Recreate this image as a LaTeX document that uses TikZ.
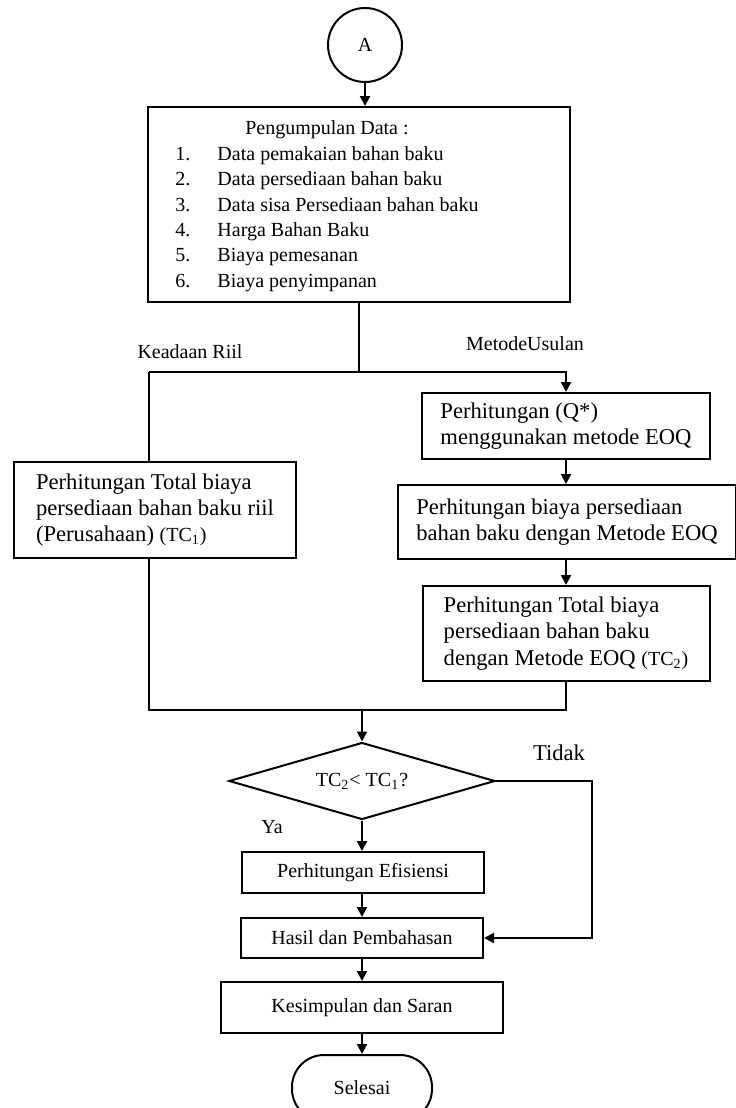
\documentclass[tikz,border=0pt]{standalone}
\usepackage{fontspec}
\setmainfont{Liberation Serif}
\usepackage{tikz}
\usetikzlibrary{positioning, calc, shapes.geometric, arrows.meta}
\newcommand{\bigtext}{\fontsize{11.3}{13.2}\selectfont}
\newcommand{\smalltext}{\fontsize{10}{12.7}\selectfont}

\begin{document}
\begin{tikzpicture}[
    x=0.5pt, y=-0.5pt,
    box/.style={rectangle, draw, line width=1pt, inner sep=0pt, align=left, font=\bigtext},
    procbox/.style={rectangle, draw, line width=1pt, inner sep=0pt, align=center, font=\smalltext},
    lbl/.style={inner sep=0pt, font=\smalltext},
    arr/.style={-{Triangle[length=5pt, width=5pt]}},
    every path/.style={line width=1pt},
  ]
    \useasboundingbox (0,0) rectangle (735,1108);

    \node[circle, draw, line width=1pt, minimum size=37pt, inner sep=0pt, font=\smalltext] (A) at (365,45) {A};
    \node[box, minimum width=211pt, minimum height=97.5pt] (data) at (359,204.5) {};
    \node[lbl] (datalist) at (327,206) {%
      \begin{tabular}{@{}l@{}l@{}}
        \multicolumn{2}{c}{Pengumpulan Data :} \\
        \makebox[21pt][l]{1.} & Data pemakaian bahan baku \\
        \makebox[21pt][l]{2.} & Data persediaan bahan baku \\
        \makebox[21pt][l]{3.} & Data sisa Persediaan bahan baku \\
        \makebox[21pt][l]{4.} & Harga Bahan Baku \\
        \makebox[21pt][l]{5.} & Biaya pemesanan \\
        \makebox[21pt][l]{6.} & Biaya penyimpanan
      \end{tabular}};

    \node[lbl] (riil) at (190,352) {Keadaan Riil};
    \node[lbl] (usulan) at (525,344) {MetodeUsulan};

    \node[box, minimum width=141pt, minimum height=48pt] (tc1) at (155,510)
      {Perhitungan Total biaya\\persediaan bahan baku riil\\(Perusahaan) {\smalltext(TC\textsubscript{1})}};
    \node[box, minimum width=144pt, minimum height=33pt] (eoq) at (566,426)
      {Perhitungan (Q*)\\menggunakan metode EOQ};
    \node[box, minimum width=169pt, minimum height=37pt] (biaya) at (567,522)
      {Perhitungan biaya persediaan\\bahan baku dengan Metode EOQ};
    \node[box, minimum width=143.5pt, minimum height=47.5pt] (tc2) at (566,633.5)
      {Perhitungan Total biaya\\persediaan bahan baku\\dengan Metode EOQ {\smalltext(TC\textsubscript{2})}};

    \node[diamond, aspect=3.45, draw, line width=1pt, minimum width=133pt, minimum height=38.5pt, inner sep=0pt, font=\smalltext] (cond) at (362,781)
      {TC\textsubscript{2}< TC\textsubscript{1}?};
    \node[lbl, font=\bigtext] (tidak) at (559,753) {Tidak};
    \node[lbl] (ya) at (272,827) {Ya};

    \node[procbox, minimum width=121pt, minimum height=20.5pt] (eff) at (363,872.5) {Perhitungan Efisiensi};
    \node[procbox, minimum width=121pt, minimum height=20pt] (hasil) at (362,938) {Hasil dan Pembahasan};
    \node[procbox, minimum width=141pt, minimum height=25.5pt] (saran) at (362,1007.5) {Kesimpulan dan Saran};
    \node[procbox, minimum width=70pt, minimum height=33pt, rounded corners=16pt] (selesai) at (362,1088) {Selesai};

    \coordinate (split) at (149,372);
    \coordinate (merge) at (362,710);

    \draw[arr] (A.south) -- (A.south |- data.north);
    \draw (data.south) -- (data.south |- split);
    \draw (split |- tc1.north) -- (split);
    \draw[arr] (split) -| (eoq.north);
    \draw[arr] (eoq.south) -- (biaya.north -| eoq.south);
    \draw[arr] (biaya.south -| tc2.north) -- (tc2.north);
    \draw (tc1.south -| split) |- (merge) -| (tc2.south);
    \draw[arr] (merge) -- (cond.north);
    \draw[arr] (cond.south) -- (eff.north -| cond.south);
    \draw[arr] (eff.south -| hasil.north) -- (hasil.north);
    \draw[arr] (hasil.south) -- (saran.north);
    \draw[arr] (saran.south) -- (selesai.north);
    \draw[arr] (cond.east) -- ++(96,0) |- (hasil.east);
  \end{tikzpicture}
\end{document}
